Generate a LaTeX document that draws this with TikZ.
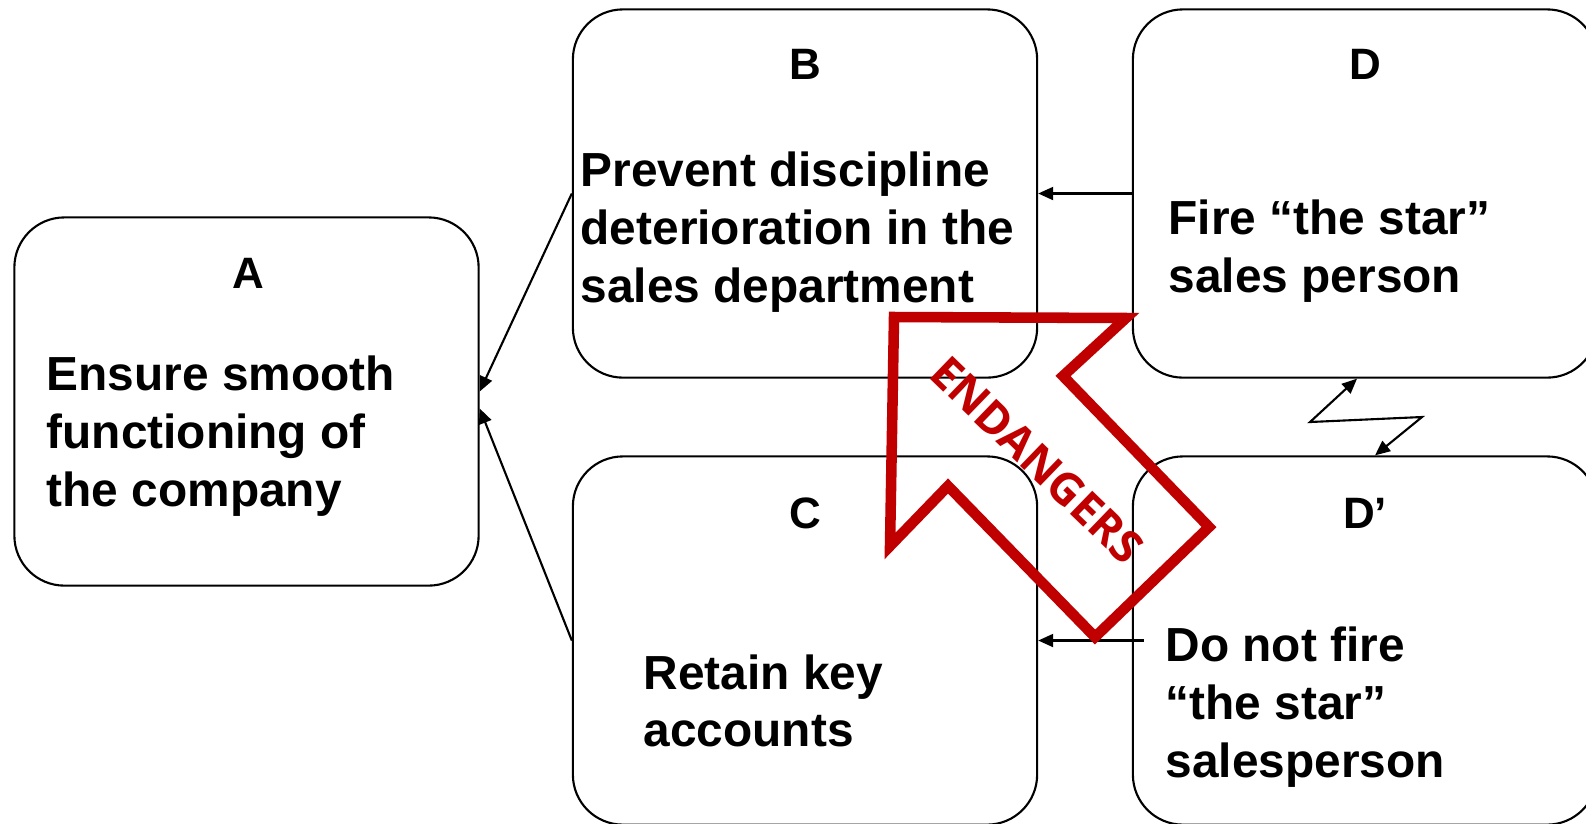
\documentclass[tikz,border=0pt]{standalone}
\usepackage{fontspec}
\setmainfont{Liberation Sans}
\newfontfamily\warnfont{Open Sans}
\usetikzlibrary{arrows.meta, positioning}
\definecolor{warnred}{RGB}{192,0,0}
\tikzset{
  box/.style = {draw=black, rounded corners=0.5cm, minimum width=4.64cm,
    minimum height=3.68cm, inner sep=0pt, line width=0.6pt},
  lab/.style = {font=\fontsize{12.5}{15}\selectfont\bfseries, inner sep=0pt},
  txt/.style = {font=\fontsize{13.6}{16.4}\selectfont\bfseries, align=left,
    anchor=west, inner sep=0pt},
  lig/.style = {-{Triangle[length=1.5mm, width=1.3mm]}, draw=black,
    line width=0.6pt},
  warn/.style = {draw=warnred, line width=3pt, line join=miter},
  warntxt/.style = {text=warnred, font=\warnfont\bfseries\fontsize{12.8}{15}\selectfont,
    rotate=-44, inner sep=0pt}
}

\begin{document}
\begin{tikzpicture}[x=0.01cm, y=-0.01cm]
  \useasboundingbox (0,0) rectangle (1586,823);
  \clip (0,0) rectangle (1586,823);
  % the five boxes
  \node [box] (A) at (246.5,401.5) {};
  \node [box] (B) at (805,193.5) {};
  \node [box] (C) at (805,640.5) {};
  \node [box] (D) at (1365,193.5) {};
  \node [box] (Dp) at (1365,640.5) {};
  % letters
  \node [lab] (la) at (248,273) {A};
  \node [lab] (lb) at (805,64) {B};
  \node [lab] (lc) at (805,513) {C};
  \node [lab] (ld) at (1365,64) {D};
  \node [lab] (ldp) at (1365,513) {D’};
  % texts
  \node [txt] (ta) at (46,436) {Ensure smooth\\functioning of\\the company};
  \node [txt] (tb) at (580,232) {Prevent discipline\\deterioration in the\\sales department};
  \node [txt] (tc) at (643,701) {Retain key\\accounts};
  \node [txt] (td) at (1168,251) {Fire “the star”\\sales person};
  \node [txt] (tdp) at (1165,707) {Do not fire\\“the star”\\salesperson};
  % connectors
  \draw [lig] (B.west) -- ([yshift=0.1cm]A.east);
  \draw [lig] (C.west) -- ([yshift=-0.07cm]A.east);
  \draw [lig] (D.west) -- (B.east);
  \draw [lig] ([xshift=0.12cm]Dp.west) -- (C.east);
  \coordinate (z1) at (1310,422);
  \coordinate (z2) at (1422,417);
  \draw [lig, {Triangle[length=1.5mm, width=1.3mm]}-{Triangle[length=1.5mm, width=1.3mm]}]
    ([xshift=-0.08cm]D.south) -- (z1) -- (z2) -- ([xshift=0.1cm]Dp.north);
  % big red arrow
  \draw [warn] (894,317) -- (1126,318) -- (1063,376) -- (1209,527)
    -- (1095,637) -- (948,486) -- (890,546) -- cycle;
  \node [warntxt] (en) at (1037,460) {ENDANGERS};
\end{tikzpicture}
\end{document}
